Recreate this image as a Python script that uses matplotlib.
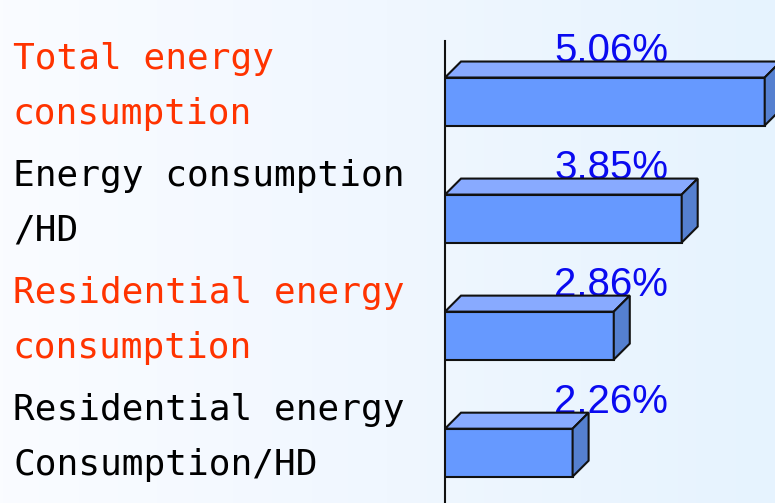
import numpy as np
import matplotlib
matplotlib.use("Agg")
import matplotlib.pyplot as plt
from matplotlib.patches import Polygon
from matplotlib.colors import LinearSegmentedColormap
from matplotlib.transforms import ScaledTranslation

categories = ["Total energy\nconsumption",
              "Energy consumption\n/HD",
              "Residential energy\nconsumption",
              "Residential energy\nConsumption/HD"]
values = [5.06, 3.85, 2.86, 2.26]
value_labels = ["5.06%", "3.85%", "2.86%", "2.26%"]
label_colors = ["#FF3300", "#000000", "#FF3300", "#000000"]

W, H, DPI = 775, 503, 100
fig = plt.figure(figsize=(W / DPI, H / DPI), dpi=DPI)

# background gradient
bg = fig.add_axes([0, 0, 1, 1], zorder=-1)
grad = np.linspace(0, 1, 256).reshape(1, -1)
cmap = LinearSegmentedColormap.from_list("bg", ["#FAFCFF", "#F0F7FF", "#E6F3FE"])
bg.imshow(grad, aspect="auto", cmap=cmap, extent=[0, 1, 0, 1])
bg.set_axis_off()

ax_left, ax_top = 445, 41
ax_w = W - ax_left
ax = fig.add_axes([ax_left / W, 0, 1 - ax_left / W, 1 - ax_top / H])
ax.set_facecolor("none")

base = 0.4
ypos = np.arange(len(values))
bars = ax.barh(ypos, np.array(values) - base, left=base, height=0.41,
               color="#6699FF", edgecolor="#111111", linewidth=1.5, zorder=3)
ax.set_xlim(base, 5.21)
ax.set_ylim(3.43, -0.517)

# 3D depth in pixels -> data
fig.canvas.draw()
inv = ax.transData.inverted()
p0 = inv.transform((0, 0))
p1 = inv.transform((16, 16))
dx = p1[0] - p0[0]
dy = p1[1] - p0[1]

for rect, lab in zip(bars.patches, value_labels):
    x0, y0 = rect.get_x(), rect.get_y()
    w, h = rect.get_width(), rect.get_height()
    x1 = x0 + w
    yt = y0
    yb = y0 + h
    top = Polygon([(x0, yt), (x1, yt), (x1 + dx, yt + dy), (x0 + dx, yt + dy)],
                  closed=True, facecolor="#88AAFF", edgecolor="#111111",
                  linewidth=1.5, zorder=3, clip_on=False)
    side = Polygon([(x1, yt), (x1 + dx, yt + dy), (x1 + dx, yb + dy), (x1, yb)],
                   closed=True, facecolor="#5580D0", edgecolor="#111111",
                   linewidth=1.5, zorder=3, clip_on=False)
    ax.add_patch(top)
    ax.add_patch(side)
    ax.text(0.503, yt + dy, lab, transform=ax.get_yaxis_transform(),
            ha="center", va="baseline", color="#0A0AF0",
            fontsize=29, family="Liberation Sans", zorder=2)

# category labels at left
lab_tr = ax.get_yaxis_transform() + ScaledTranslation(0, 11 / 72, fig.dpi_scale_trans)
for yv, txt, c in zip(ypos, categories, label_colors):
    ax.text((13 - ax_left) / ax_w, yv, txt, transform=lab_tr,
            ha="left", va="center", color=c, family="DejaVu Sans Mono",
            fontsize=26, linespacing=1.78, clip_on=False)

ax.set_yticks([])
ax.set_xticks([])
for s in ["top", "right", "bottom"]:
    ax.spines[s].set_visible(False)
ax.spines["left"].set_linewidth(1.5)
ax.spines["left"].set_color("#111111")

fig.savefig("out.png", dpi=DPI)
